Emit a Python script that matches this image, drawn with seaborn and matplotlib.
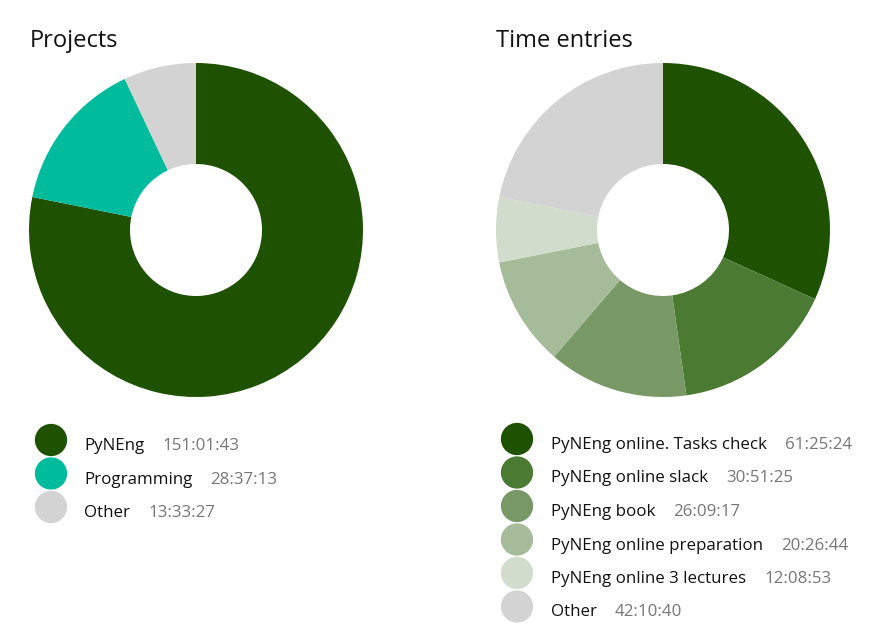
import matplotlib
matplotlib.use("Agg")
import matplotlib.pyplot as plt
import seaborn as sns

# Data
projects = ["PyNEng", "Programming", "Other"]
project_times = ["151:01:43", "28:37:13", "13:33:27"]
project_colors = ["#1e5200", "#00bc9c", "#d3d3d3"]

entries = ["PyNEng online. Tasks check", "PyNEng online slack", "PyNEng book",
           "PyNEng online preparation", "PyNEng online 3 lectures", "Other"]
entry_times = ["61:25:24", "30:51:25", "26:09:17", "20:26:44", "12:08:53", "42:10:40"]
entry_colors = ["#1e5200", "#4b7a32", "#789966", "#a5bb99", "#d2dccc", "#d3d3d3"]


def to_seconds(t):
    h, m, s = (int(x) for x in t.split(":"))
    return h * 3600 + m * 60 + s


sns.set_theme(style="white")
plt.rcParams["font.family"] = ["Open Sans", "DejaVu Sans"]

W, H = 870, 638
fig = plt.figure(figsize=(W / 100, H / 100), dpi=100)
fig.patch.set_facecolor("white")


def px_axes(x0, y0, x1, y1):
    return fig.add_axes([x0 / W, 1 - y1 / H, (x1 - x0) / W, (y1 - y0) / H])


def donut(box, values, colors):
    ax = px_axes(*box)
    ax.pie([to_seconds(v) for v in values], colors=colors, startangle=90,
           counterclock=False, radius=1,
           wedgeprops=dict(width=(167 - 66) / 167, edgecolor="none"))
    ax.set_xlim(-1, 1)
    ax.set_ylim(-1, 1)
    ax.set_aspect("equal")
    ax.axis("off")


donut((29, 63, 363, 397), project_times, project_colors)
donut((496, 63, 830, 397), entry_times, entry_colors)

# overlay for titles and legends in pixel space
ov = fig.add_axes([0, 0, 1, 1], zorder=5)
ov.set_xlim(0, W)
ov.set_ylim(H, 0)
ov.axis("off")
ov.patch.set_alpha(0)

ov.text(30, 41, "Projects", fontsize=17, color="#111111", va="center", ha="left")
ov.text(496, 41, "Time entries", fontsize=17, color="#111111", va="center", ha="left")

fig.canvas.draw()
renderer = fig.canvas.get_renderer()


def legend(x_dot, x_text, y0, step, labels, times, colors):
    for i, (lab, t, c) in enumerate(zip(labels, times, colors)):
        y = y0 + i * step
        ov.scatter([x_dot], [y], s=540, color=c, edgecolors="none")
        txt = ov.text(x_text, y + 6, lab, fontsize=12.2, color="#111111", va="center", ha="left")
        bb = txt.get_window_extent(renderer=renderer)
        x_end = bb.x1  # display pixels (dpi 100 -> same as figure px)
        ov.text(x_end + 18, y + 6, t, fontsize=12.2, color="#777777", va="center", ha="left")


legend(51, 84, 440, 33.5, projects, project_times, project_colors)
legend(517, 551, 439, 33.5, entries, entry_times, entry_colors)

fig.savefig("out.png", dpi=100, facecolor="white")
